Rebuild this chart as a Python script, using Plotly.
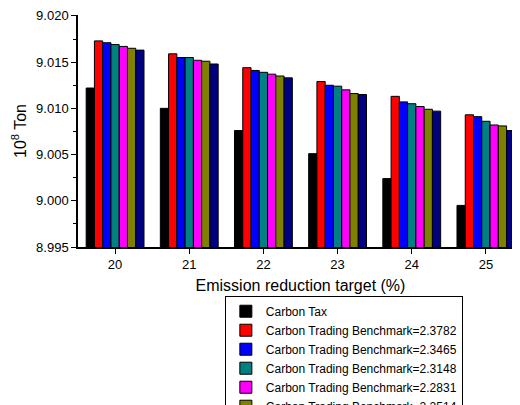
import plotly.graph_objects as go

targets = ["20", "21", "22", "23", "24", "25"]
series_names = [
    "Carbon Tax",
    "Carbon Trading Benchmark=2.3782",
    "Carbon Trading Benchmark=2.3465",
    "Carbon Trading Benchmark=2.3148",
    "Carbon Trading Benchmark=2.2831",
    "Carbon Trading Benchmark=2.2514",
    "Carbon Trading Benchmark=2.2197",
]
carbon_tax = [9.0122, 9.0100, 9.0076, 9.0051, 9.0024, 8.9995]
bench_23782 = [9.0173, 9.0159, 9.0144, 9.0129, 9.0113, 9.0093]
bench_23465 = [9.0171, 9.0155, 9.0141, 9.0125, 9.0107, 9.0091]
bench_23148 = [9.0169, 9.0155, 9.0139, 9.0124, 9.0105, 9.0086]
bench_22831 = [9.0167, 9.0152, 9.0137, 9.0120, 9.0102, 9.0082]
bench_22514 = [9.0165, 9.0151, 9.0135, 9.0116, 9.0099, 9.0081]
bench_22197 = [9.0163, 9.0148, 9.0133, 9.0115, 9.0097, 9.0076]

colors = ["#000000", "#ff0000", "#0000ff", "#008080", "#ff00ff", "#808000", "#000080"]
values = [carbon_tax, bench_23782, bench_23465, bench_23148, bench_22831, bench_22514, bench_22197]

fig = go.Figure()
for name, vals, c in zip(series_names, values, colors):
    fig.add_bar(x=targets, y=vals, name=name,
                marker=dict(color=c, line=dict(color="#000000", width=1)))

axis_font = dict(family="Arial, Liberation Sans", size=13, color="#000")
fig.update_layout(
    width=520, height=405,
    paper_bgcolor="white", plot_bgcolor="white",
    margin=dict(l=70, r=5, t=7, b=166, autoexpand=False),
    barmode="group", bargap=0.22, bargroupgap=0,
    font=axis_font,
    showlegend=True,
    legend=dict(x=0.33, y=-0.21, xanchor="left", yanchor="top",
                bordercolor="#000", borderwidth=1, tracegroupgap=0,
                itemwidth=30,
                font=dict(family="Arial, Liberation Sans", size=12)),
)
fig.update_xaxes(
    type="category", showline=True, linecolor="#000", linewidth=1.5,
    ticks="outside", ticklen=5, tickcolor="#000",
    title=dict(text="Emission reduction target (%)", standoff=8),
)
fig.update_yaxes(
    range=[8.995, 9.0201], showline=True, linecolor="#000", linewidth=1.5,
    tickvals=[8.995, 9.000, 9.005, 9.010, 9.015, 9.020],
    ticktext=["8.995", "9.000", "9.005", "9.010", "9.015", "9.020"],
    ticks="outside", ticklen=5, tickcolor="#000",
    minor=dict(tickvals=[8.9975, 9.0025, 9.0075, 9.0125, 9.0175],
               ticks="outside", ticklen=3, tickcolor="#000"),
    showgrid=False, zeroline=False,
    title=dict(text="10<sup>8</sup> Ton", standoff=6),
)
fig.write_html("out.html")
